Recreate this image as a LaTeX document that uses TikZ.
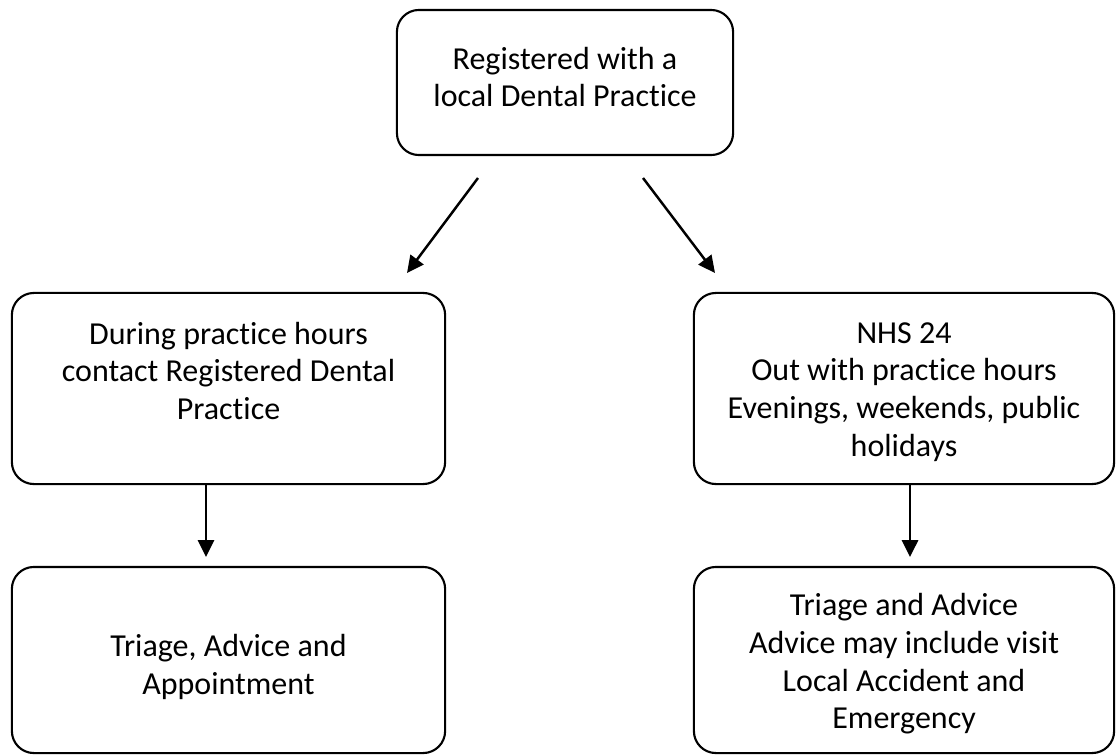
\documentclass[tikz,border=0pt]{standalone}
\usepackage{fontspec}
\setmainfont{Carlito}[Ligatures=NoCommon]
\usetikzlibrary{arrows.meta}
\begin{document}
\begin{tikzpicture}[x=0.01cm, y=-0.01cm,
        box/.style={draw, line width=0.6pt, rounded corners=0.22cm, inner sep=0pt},
        txt/.style={align=center, inner sep=0pt, font=\fontsize{9.1}{10.7}\selectfont},
        arr/.style={-{Triangle[length=4.8pt, width=4.6pt]}, line width=0.7pt}]
        \useasboundingbox ( 0, 0 ) rectangle ( 1116, 755 );

        % блоки
        \node [ box, minimum width=3.36cm, minimum height=1.45cm ] (reg) at ( 565, 82.5 ) {};
        \node [ box, minimum width=4.33cm, minimum height=1.91cm ] (hours) at ( 228.5, 388.5 ) {};
        \node [ box, minimum width=4.20cm, minimum height=1.91cm ] (nhs) at ( 904, 388.5 ) {};
        \node [ box, minimum width=4.33cm, minimum height=1.86cm ] (appt) at ( 228.5, 660 ) {};
        \node [ box, minimum width=4.20cm, minimum height=1.86cm ] (advice) at ( 904, 660 ) {};

        % тексты
        \node [ txt ] (regText) at ( 565, 77 ) {Registered with a\\local Dental Practice};
        \node [ txt ] (hoursText) at ( 228.5, 371 ) {During practice hours\\contact Registered Dental\\Practice};
        \node [ txt ] (nhsText) at ( 904, 392 ) {NHS 24\\Out with practice hours\\Evenings, weekends, public\\holidays};
        \node [ txt ] (apptText) at ( 228.5, 667 ) {Triage, Advice and\\Appointment};
        \node [ txt ] (adviceText) at ( 904, 664 ) {Triage and Advice\\Advice may include visit\\Local Accident and\\Emergency};

        % стрелки
        \coordinate (leftFrom) at ( 478, 178 );
        \coordinate (leftTo) at ( 407, 273 );
        \coordinate (rightFrom) at ( 643, 178 );
        \coordinate (rightTo) at ( 715, 273 );
        \coordinate (apptTo) at ( 206, 557 );
        \coordinate (adviceTo) at ( 910, 557 );
        \draw [ arr ] (leftFrom) -- (leftTo);
        \draw [ arr ] (rightFrom) -- (rightTo);
        \draw [ arr ] (hours.south -| apptTo) -- (apptTo);
        \draw [ arr ] (nhs.south -| adviceTo) -- (adviceTo);
\end{tikzpicture}
\end{document}
